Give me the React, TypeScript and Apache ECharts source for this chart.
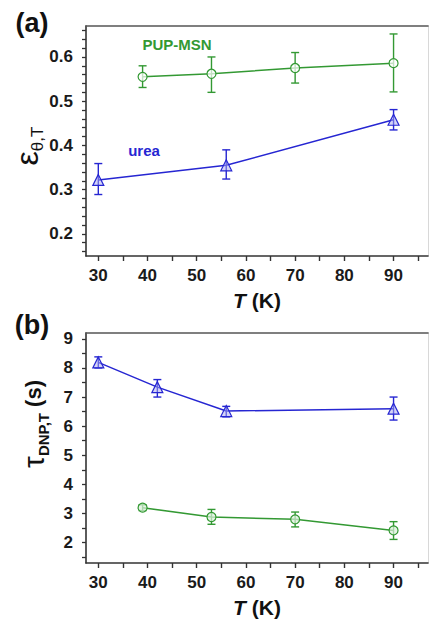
import React, { useEffect, useRef } from "react";
import * as echarts from "echarts";

// ---- data ----
const tempPupA = [39, 53, 70, 90];
const epsPup = [0.555, 0.562, 0.575, 0.586];
const epsPupLow = [0.531, 0.52, 0.541, 0.521];
const epsPupHigh = [0.58, 0.6, 0.61, 0.652];

const tempUreaA = [30, 56, 90];
const epsUrea = [0.322, 0.355, 0.458];
const epsUreaLow = [0.289, 0.324, 0.435];
const epsUreaHigh = [0.359, 0.39, 0.481];

const tempUreaB = [30, 42, 56, 90];
const tauUrea = [8.19, 7.34, 6.52, 6.6];
const tauUreaLow = [8.0, 7.0, 6.32, 6.21];
const tauUreaHigh = [8.38, 7.6, 6.68, 7.0];

const tempPupB = [39, 53, 70, 90];
const tauPup = [3.2, 2.88, 2.8, 2.42];
const tauPupLow = [3.1, 2.63, 2.54, 2.11];
const tauPupHigh = [3.3, 3.14, 3.05, 2.72];

const xLabelValues = [30, 40, 50, 60, 70, 80, 90];
const xTickValues = [30, 35, 40, 45, 50, 55, 60, 65, 70, 75, 80, 85, 90, 95];
const yLabelValuesA = [0.2, 0.3, 0.4, 0.5, 0.6];
const yTickValuesA = [0.16, 0.18, 0.2, 0.22, 0.24, 0.26, 0.28, 0.3, 0.32, 0.34, 0.36, 0.38, 0.4, 0.42, 0.44, 0.46, 0.48, 0.5, 0.52, 0.54, 0.56, 0.58, 0.6, 0.62, 0.64, 0.66];
const yLabelValuesB = [2, 3, 4, 5, 6, 7, 8, 9];
const yTickValuesB = [1.5, 2, 2.5, 3, 3.5, 4, 4.5, 5, 5.5, 6, 6.5, 7, 7.5, 8, 8.5, 9];

const GREEN = "#339933";
const BLUE = "#2626d2";
const FONT = "'Liberation Sans', Arial, sans-serif";
const AXIS = "#333";

function zip3(xs: number[], lo: number[], hi: number[]) {
  return xs.map((x, i) => [x, lo[i], hi[i]]);
}
function zip2(xs: number[], ys: number[]) {
  return xs.map((x, i) => [x, ys[i]]);
}

function errorBars(color: string, xi: number, yi: number, data: number[][]) {
  return {
    type: "custom",
    xAxisIndex: xi,
    yAxisIndex: yi,
    z: 1,
    data,
    encode: { x: 0, y: [1, 2] },
    renderItem: (params: any, api: any) => {
      const x = api.value(0);
      const top = api.coord([x, api.value(2)]);
      const bot = api.coord([x, api.value(1)]);
      const w = 4;
      const st = { stroke: color, lineWidth: 1.4 };
      return {
        type: "group",
        children: [
          { type: "line", shape: { x1: top[0], y1: top[1], x2: bot[0], y2: bot[1] }, style: st },
          { type: "line", shape: { x1: top[0] - w, y1: top[1], x2: top[0] + w, y2: top[1] }, style: st },
          { type: "line", shape: { x1: bot[0] - w, y1: bot[1], x2: bot[0] + w, y2: bot[1] }, style: st },
        ],
      };
    },
  };
}

function lineSeries(color: string, fill: string, symbol: string, size: number, xi: number, yi: number, data: number[][]) {
  return {
    type: "line",
    xAxisIndex: xi,
    yAxisIndex: yi,
    z: 3,
    data,
    symbol,
    symbolSize: size,
    showAllSymbol: true,
    lineStyle: { color, width: 1.5 },
    itemStyle: { color: fill, borderColor: color, borderWidth: 1.2 },
  };
}

function xAxes(gridIndex: number) {
  const common = { type: "value", gridIndex, min: 27.5, max: 97, splitLine: { show: false } };
  return [
    {
      ...common,
      position: "bottom",
      axisLine: { show: true, onZero: false, lineStyle: { color: AXIS, width: 1.6 } },
      axisTick: { show: true, inside: false, length: 5, customValues: xTickValues, lineStyle: { color: AXIS, width: 1.4 } },
      axisLabel: { show: true, customValues: xLabelValues, margin: 11, fontFamily: FONT, fontSize: 17, fontWeight: "bold", color: "#1a1a1a" },
      name: "{i|T}{n| (K)}",
      nameLocation: "middle",
      nameGap: 34,
      nameTextStyle: {
        rich: {
          i: { fontFamily: FONT, fontSize: 21, fontWeight: "bold", fontStyle: "italic", color: "#111" },
          n: { fontFamily: FONT, fontSize: 21, fontWeight: "bold", color: "#111" },
        },
      },
    },
    {
      ...common,
      position: "top",
      axisLine: { show: true, onZero: false, lineStyle: { color: "#555", width: 1.6 } },
      axisTick: { show: false },
      axisLabel: { show: false },
    },
  ];
}

function yAxes(gridIndex: number, min: number, max: number, labels: number[], ticks: number[], fmt: (v: number) => string) {
  const common = { type: "value", gridIndex, min, max, splitLine: { show: false } };
  return [
    {
      ...common,
      position: "left",
      axisLine: { show: true, onZero: false, lineStyle: { color: AXIS, width: 1.6 } },
      axisTick: { show: true, inside: false, length: 4, customValues: ticks, lineStyle: { color: AXIS, width: 1.3 } },
      axisLabel: { show: true, customValues: labels, margin: 13, formatter: fmt, fontFamily: FONT, fontSize: 17, fontWeight: "bold", color: "#1a1a1a" },
    },
    {
      ...common,
      position: "right",
      axisLine: { show: true, onZero: false, lineStyle: { color: "#d8d8d8", width: 1 } },
      axisTick: { show: false },
      axisLabel: { show: false },
    },
  ];
}

export default function App() {
  const ref = useRef<HTMLDivElement>(null);
  useEffect(() => {
    if (!ref.current) return;
    const chart = echarts.init(ref.current, null, { renderer: "svg" });
    const option: any = {
      animation: false,
      backgroundColor: "#fff",
      grid: [
        { left: 86, top: 26, width: 342, height: 230 },
        { left: 86, top: 333, width: 342, height: 230 },
      ],
      xAxis: [...xAxes(0), ...xAxes(1)],
      yAxis: [
        ...yAxes(0, 0.15, 0.67, yLabelValuesA, yTickValuesA, (v: number) => v.toFixed(1)),
        ...yAxes(1, 1.3, 9.2, yLabelValuesB, yTickValuesB, (v: number) => String(Math.round(v))),
      ],
      series: [
        errorBars(GREEN, 0, 0, zip3(tempPupA, epsPupLow, epsPupHigh)),
        errorBars(BLUE, 0, 0, zip3(tempUreaA, epsUreaLow, epsUreaHigh)),
        lineSeries(GREEN, "rgba(255,255,255,0.7)", "circle", 9, 0, 0, zip2(tempPupA, epsPup)),
        lineSeries(BLUE, "rgba(170,170,240,0.5)", "triangle", 11, 0, 0, zip2(tempUreaA, epsUrea)),
        errorBars(BLUE, 2, 2, zip3(tempUreaB, tauUreaLow, tauUreaHigh)),
        errorBars(GREEN, 2, 2, zip3(tempPupB, tauPupLow, tauPupHigh)),
        lineSeries(BLUE, "rgba(170,170,240,0.5)", "triangle", 11, 2, 2, zip2(tempUreaB, tauUrea)),
        lineSeries(GREEN, "rgba(220,240,220,0.7)", "circle", 9, 2, 2, zip2(tempPupB, tauPup)),
      ],
      graphic: [
        { type: "text", x: 32, y: 23, style: { text: "(a)", font: `bold 27px ${FONT}`, fill: "#111", align: "center", verticalAlign: "middle" } },
        { type: "text", x: 32, y: 325, style: { text: "(b)", font: `bold 27px ${FONT}`, fill: "#111", align: "center", verticalAlign: "middle" } },
        { type: "text", x: 177, y: 44, style: { text: "PUP-MSN", font: `bold 15px ${FONT}`, fill: GREEN, align: "center", verticalAlign: "middle" } },
        { type: "text", x: 144, y: 150, style: { text: "urea", font: `bold 15px ${FONT}`, fill: BLUE, align: "center", verticalAlign: "middle" } },
        {
          type: "text",
          x: 27,
          y: 146,
          rotation: Math.PI / 2,
          style: {
            text: "{e|ε}{s|θ,T}",
            align: "center",
            verticalAlign: "middle",
            fill: "#111",
            rich: {
              e: { fontFamily: FONT, fontSize: 32, lineHeight: 38, verticalAlign: "middle", fill: "#111" },
              s: { fontFamily: FONT, fontSize: 17, lineHeight: 17, verticalAlign: "bottom", fill: "#111" },
            },
          },
        },
        {
          type: "text",
          x: 33,
          y: 424,
          rotation: Math.PI / 2,
          style: {
            text: "{t|τ}{s|DNP,T}{u| (s)}",
            align: "center",
            verticalAlign: "middle",
            fill: "#111",
            rich: {
              t: { fontFamily: FONT, fontSize: 30, lineHeight: 36, verticalAlign: "middle", fill: "#111" },
              s: { fontFamily: FONT, fontSize: 15, fontWeight: "bold", lineHeight: 15, verticalAlign: "bottom", fill: "#111" },
              u: { fontFamily: FONT, fontSize: 22, fontWeight: "bold", lineHeight: 36, verticalAlign: "middle", fill: "#111" },
            },
          },
        },
      ],
    };
    chart.setOption(option);
    return () => chart.dispose();
  }, []);
  return <div ref={ref} style={{ position: "fixed", left: 0, top: 0, width: 430, height: 629, background: "#fff" }} />;
}
